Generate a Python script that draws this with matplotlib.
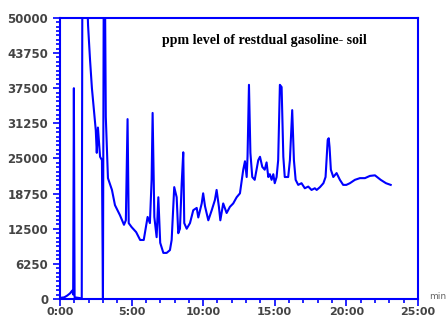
import matplotlib.pyplot as plt
from matplotlib.ticker import MultipleLocator, FuncFormatter

# retention time (min) and response (ppm)
time_min = [0.0, 0.3, 0.5, 0.7, 0.85, 0.92, 0.97, 1.02, 1.3, 1.52, 1.58,
            1.96, 2.1, 2.23, 2.37, 2.5, 2.57, 2.65, 2.8, 2.93, 3.0, 3.08,
            3.2, 3.35, 3.63, 3.84, 4.19, 4.47, 4.6, 4.72, 4.8, 5.0, 5.32,
            5.6, 5.85, 6.12, 6.28, 6.4, 6.47, 6.59, 6.75, 6.87, 7.0, 7.22,
            7.45, 7.68, 7.8, 7.98, 8.15, 8.26, 8.38, 8.5, 8.61, 8.68, 8.85,
            9.08, 9.31, 9.55, 9.66, 9.9, 10.0, 10.13, 10.36, 10.6, 10.82,
            10.94, 11.1, 11.2, 11.4, 11.64, 11.87, 12.1, 12.34, 12.57, 12.8,
            12.92, 13.04, 13.1, 13.2, 13.3, 13.43, 13.6, 13.85, 13.97, 14.13,
            14.3, 14.43, 14.55, 14.66, 14.78, 14.9, 15.0, 15.13, 15.24, 15.36,
            15.48, 15.6, 15.7, 15.94, 16.06, 16.22, 16.34, 16.46, 16.64,
            16.87, 17.1, 17.34, 17.57, 17.8, 17.93, 18.16, 18.4, 18.55, 18.7,
            18.77, 18.83, 18.92, 19.09, 19.32, 19.55, 19.78, 20.0, 20.25,
            20.6, 20.95, 21.3, 21.65, 22.0, 22.4, 22.77, 23.1]
ppm = [200, 300, 600, 1000, 1500, 800, 37500, 300, 200, 100, 80000,
       48700, 42500, 37500, 33600, 30000, 26000, 30500, 25300, 24700, 0, 80000,
       32400, 21500, 19400, 16700, 14900, 13200, 14000, 32000, 13500, 12800, 11900,
       10500, 10500, 14600, 13500, 21200, 33100, 14600, 11000, 18100, 10000, 8200,
       8200, 8700, 10500, 19900, 18100, 11700, 12500, 20500, 26100, 13500, 12500,
       13500, 15800, 16200, 14500, 17000, 18800, 16500, 14000, 15800, 17600,
       19400, 16400, 14000, 17000, 15300, 16400, 17000, 18100, 18800, 23000,
       24500, 21700, 25300, 38100, 26000, 21700, 21200, 24700, 25300, 23500,
       23000, 24300, 21700, 22200, 21200, 22200, 20600, 21700, 24700, 38100,
       37700, 25300, 21700, 21700, 24700, 33600, 24700, 21200, 20300,
       20600, 19700, 20000, 19400, 19700, 19400, 19900, 20600, 21700, 28300,
       28600, 27000, 23000, 21700, 22400, 21200, 20300, 20300, 20600,
       21200, 21500, 21500, 21900, 22000, 21200, 20600, 20300]

y_ticks = [0, 6250, 12500, 18750, 25000, 31250, 37500, 43750, 50000]

blue = '#0000ff'
fig = plt.figure(figsize=(4.46, 3.2), dpi=100)
ax = fig.add_axes([0.1345, 0.0656, 0.8025, 0.8784])
ax.plot(time_min, ppm, color=blue, lw=1.5)
ax.set_xlim(0, 25)
ax.set_ylim(0, 50000)
ax.set_yticks(y_ticks)
ax.yaxis.set_minor_locator(MultipleLocator(6250 / 8))
ax.xaxis.set_major_locator(MultipleLocator(5))
ax.xaxis.set_minor_locator(MultipleLocator(1))
ax.xaxis.set_major_formatter(FuncFormatter(lambda v, p: f'{int(v)}:00'))

for s in ax.spines.values():
    s.set_color(blue)
    s.set_linewidth(1.5)
ax.tick_params(which='both', color=blue, direction='out', width=1.2)
ax.tick_params(which='major', length=5, labelsize=8.5, labelcolor='#444444')
ax.tick_params(which='minor', length=3)
ax.tick_params(axis='x', which='major', pad=0.5, labelsize=8)
for lab in ax.get_xticklabels() + ax.get_yticklabels():
    lab.set_fontweight('bold')

ax.text(0.57, 0.92, 'ppm level of restdual gasoline- soil', transform=ax.transAxes,
        ha='center', va='center', fontsize=10, fontweight='bold',
        family='Liberation Serif', color='black')
fig.text(0.962, 0.072, 'min', fontsize=6.5, color='#666666', ha='left', va='center')

plt.savefig('out.png')
